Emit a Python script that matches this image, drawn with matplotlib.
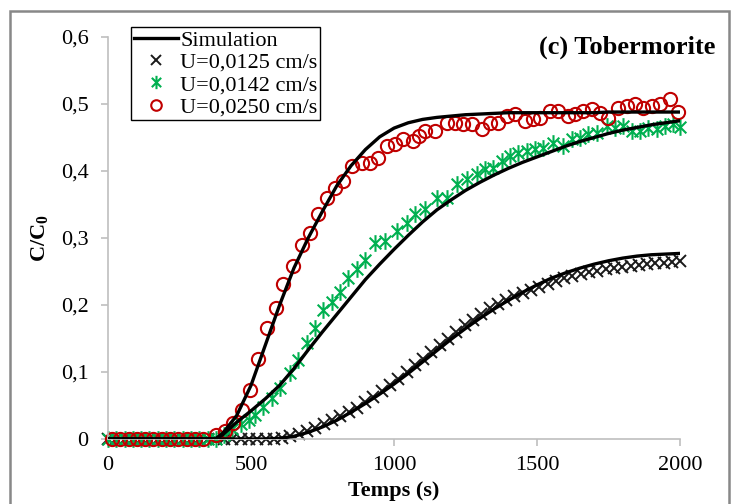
import matplotlib
matplotlib.use("Agg")
import matplotlib.pyplot as plt
from matplotlib.path import Path
from matplotlib.patches import Rectangle

plt.rcParams['font.family'] = ['Liberation Serif', 'DejaVu Serif']
plt.rcParams['mathtext.fontset'] = 'custom'
plt.rcParams['mathtext.rm'] = 'Liberation Serif'
plt.rcParams['mathtext.bf'] = 'Liberation Serif:bold'

# simulation curves (shared time grid)
sim_t = [0, 350, 375, 400, 450, 500, 550, 600, 650, 700, 750, 800, 850, 900, 950,
         1000, 1050, 1100, 1150, 1200, 1250, 1300, 1350, 1400, 1450, 1500, 1550,
         1600, 1650, 1700, 1750, 1800, 1850, 1900, 1950, 2000]
sim_0125 = [0, 0, 0, 0, 0, 0, 0, 0.001, 0.004, 0.010, 0.018, 0.028, 0.040, 0.053, 0.067,
            0.082, 0.098, 0.115, 0.132, 0.149, 0.165, 0.180, 0.194, 0.207, 0.219, 0.230, 0.240,
            0.248, 0.255, 0.261, 0.266, 0.270, 0.273, 0.275, 0.276, 0.277]
sim_0142 = [0, 0, 0, 0.006, 0.025, 0.042, 0.060, 0.080, 0.105, 0.133, 0.160, 0.186, 0.212, 0.238, 0.261,
            0.283, 0.304, 0.324, 0.342, 0.357, 0.371, 0.383, 0.394, 0.404, 0.413, 0.421, 0.429,
            0.437, 0.444, 0.450, 0.456, 0.461, 0.465, 0.469, 0.472, 0.475]
sim_0250 = [0, 0, 0, 0.008, 0.035, 0.080, 0.140, 0.200, 0.255, 0.300, 0.340, 0.378, 0.408, 0.432, 0.451,
            0.464, 0.472, 0.477, 0.480, 0.482, 0.484, 0.485, 0.486, 0.487, 0.487, 0.487, 0.487,
            0.487, 0.487, 0.487, 0.488, 0.488, 0.488, 0.488, 0.488, 0.488]

# measurements U=0,0125 cm/s
t_0125 = [0, 29, 58, 87, 116, 145, 174, 203, 232, 261, 290, 319, 348, 377, 406, 435, 464,
          493, 522, 551, 580, 609, 638, 667, 696, 725, 754, 783, 812, 841, 870, 899, 928,
          957, 986, 1015, 1044, 1073, 1102, 1131, 1160, 1189, 1218, 1247, 1276, 1305, 1334,
          1363, 1392, 1421, 1450, 1479, 1508, 1537, 1566, 1595, 1624, 1653, 1682, 1711, 1740,
          1769, 1798, 1827, 1856, 1885, 1914, 1943, 1972, 2000]
c_0125 = [0, 0, 0, 0, 0, 0, 0, 0, 0, 0, 0, 0, 0, 0, 0, 0, 0,
          0, 0, 0, 0, 0.002, 0.004, 0.007, 0.012, 0.017, 0.022, 0.028, 0.034, 0.040, 0.047, 0.055, 0.063,
          0.071, 0.080, 0.090, 0.100, 0.110, 0.120, 0.130, 0.140, 0.150, 0.160, 0.170, 0.178, 0.187, 0.195,
          0.202, 0.208, 0.213, 0.218, 0.222, 0.227, 0.232, 0.236, 0.240, 0.243, 0.246, 0.249, 0.251, 0.253,
          0.255, 0.257, 0.258, 0.259, 0.261, 0.262, 0.263, 0.264, 0.266]

# measurements U=0,0142 cm/s
t_0142 = [0, 29, 58, 87, 116, 145, 174, 203, 232, 261, 290, 319, 348, 377, 406, 435, 464,
          493, 514, 542, 573, 601, 636, 664, 696, 724, 752, 783, 811, 839, 871, 899, 934,
          969, 1010, 1045, 1073, 1108, 1150, 1185, 1220, 1255, 1290, 1318, 1346, 1378, 1406,
          1434, 1465, 1493, 1521, 1556, 1591, 1622, 1650, 1678, 1710, 1745, 1773, 1801, 1832,
          1860, 1888, 1920, 1948, 1976, 2000]
c_0142 = [0, 0, 0, 0, 0, 0, 0, 0, 0, 0, 0, 0, 0, 0, 0.006, 0.015, 0.022,
          0.028, 0.036, 0.048, 0.061, 0.076, 0.098, 0.118, 0.143, 0.165, 0.192, 0.204, 0.219, 0.240, 0.254, 0.267, 0.292,
          0.296, 0.311, 0.323, 0.336, 0.343, 0.359, 0.360, 0.381, 0.388, 0.396, 0.403, 0.405, 0.415, 0.423,
          0.427, 0.430, 0.433, 0.435, 0.442, 0.438, 0.448, 0.450, 0.455, 0.457, 0.467, 0.464, 0.467, 0.460,
          0.460, 0.464, 0.463, 0.467, 0.470, 0.466]

# measurements U=0,0250 cm/s
t_0250 = [14, 43, 72, 101, 130, 159, 188, 217, 246, 275, 304, 333, 378, 409, 438, 467,
          497, 525, 556, 587, 612, 646, 678, 706, 734, 766, 794, 822, 853, 888, 916, 944,
          975, 1003, 1031, 1066, 1087, 1108, 1143, 1185, 1213, 1241, 1273, 1308, 1336, 1364,
          1395, 1423, 1458, 1486, 1510, 1545, 1573, 1608, 1633, 1661, 1692, 1720, 1748, 1783,
          1815, 1843, 1871, 1902, 1930, 1965, 1993]
c_0250 = [0, 0, 0, 0, 0, 0, 0, 0, 0, 0, 0, 0, 0.006, 0.012, 0.024, 0.043,
          0.073, 0.120, 0.165, 0.195, 0.232, 0.258, 0.290, 0.307, 0.336, 0.359, 0.375, 0.385, 0.408, 0.412, 0.412, 0.420,
          0.437, 0.440, 0.448, 0.445, 0.452, 0.460, 0.460, 0.472, 0.472, 0.470, 0.470, 0.463, 0.472, 0.472,
          0.482, 0.485, 0.475, 0.478, 0.479, 0.490, 0.490, 0.482, 0.485, 0.490, 0.492, 0.487, 0.479, 0.494,
          0.497, 0.500, 0.494, 0.497, 0.500, 0.507, 0.488]

y_ticks = [0, 0.1, 0.2, 0.3, 0.4, 0.5, 0.6]
y_tick_labels = ['0', '0,1', '0,2', '0,3', '0,4', '0,5', '0,6']
x_ticks = [0, 500, 1000, 1500, 2000]

# Excel-style asterisk: x with a vertical bar
star = Path([(-0.7, -0.7), (0.7, 0.7), (-0.7, 0.7), (0.7, -0.7), (0, -1), (0, 1)],
            [Path.MOVETO, Path.LINETO, Path.MOVETO, Path.LINETO, Path.MOVETO, Path.LINETO])

fig = plt.figure(figsize=(7.39, 5.04), dpi=100)
ax = fig.add_axes([108 / 739, 1 - 439 / 504, 572 / 739, 402 / 504])

ax.plot(t_0125, c_0125, ls='none', marker='x', ms=8.5, mew=1.4, color='#1a1a1a',
        label='U=0,0125 cm/s', zorder=2, clip_on=False)
ax.plot(t_0142, c_0142, ls='none', marker=star, ms=12, mew=1.5, color='#00B050',
        label='U=0,0142 cm/s', zorder=2, clip_on=False)
ax.plot(t_0250, c_0250, ls='none', marker='o', ms=9.5, mew=1.5, mfc='none', mec='#C00000',
        label='U=0,0250 cm/s', zorder=2, clip_on=False)
sim_line, = ax.plot(sim_t, sim_0125, color='black', lw=2.4, label='Simulation', zorder=3)
ax.plot(sim_t, sim_0142, color='black', lw=2.4, zorder=3)
ax.plot(sim_t, sim_0250, color='black', lw=2.4, zorder=3)

ax.set_xlim(0, 2000)
ax.set_ylim(0, 0.6)
ax.set_xticks(x_ticks)
ax.set_yticks(y_ticks)
ax.set_yticklabels(y_tick_labels)
for s in ['top', 'right']:
    ax.spines[s].set_visible(False)
for s in ['left', 'bottom']:
    ax.spines[s].set_color('#BFBFBF')
    ax.spines[s].set_linewidth(1.2)
ax.tick_params(direction='out', length=5, width=1.2, color='#BFBFBF', labelsize=16)
ax.tick_params(axis='y', pad=9)
ax.tick_params(axis='x', pad=7)

ax.set_xlabel('Temps (s)', fontsize=16, fontweight='bold')
ax.xaxis.set_label_coords(0.5, -0.105)
ax.set_ylabel(r'C/C$_\mathbf{0}$', fontsize=16, fontweight='bold')
ax.yaxis.set_label_coords(-0.10, 0.5)

handles, labels = ax.get_legend_handles_labels()
order = [3, 0, 1, 2]
leg = ax.legend([handles[i] for i in order], [labels[i] for i in order],
                loc='upper left', bbox_to_anchor=(0.040, 1.024), fontsize=16,
                frameon=True, fancybox=False, edgecolor='black', framealpha=1,
                borderpad=0.12, labelspacing=0.08, handlelength=2.0,
                handletextpad=0.1, borderaxespad=0, markerscale=0.8)
leg.get_frame().set_linewidth(1.0)

fig.text(715 / 739, 1 - 47 / 504, '(c) Tobermorite', ha='right', va='center',
         fontsize=19, fontweight='bold')

# outer chart border
fig.patches.append(Rectangle((10 / 739, -0.02), 719 / 739, 1 - 11 / 504 + 0.02,
                             transform=fig.transFigure, fill=False,
                             edgecolor='#888888', lw=1.8))

fig.savefig('out.png', dpi=100)
